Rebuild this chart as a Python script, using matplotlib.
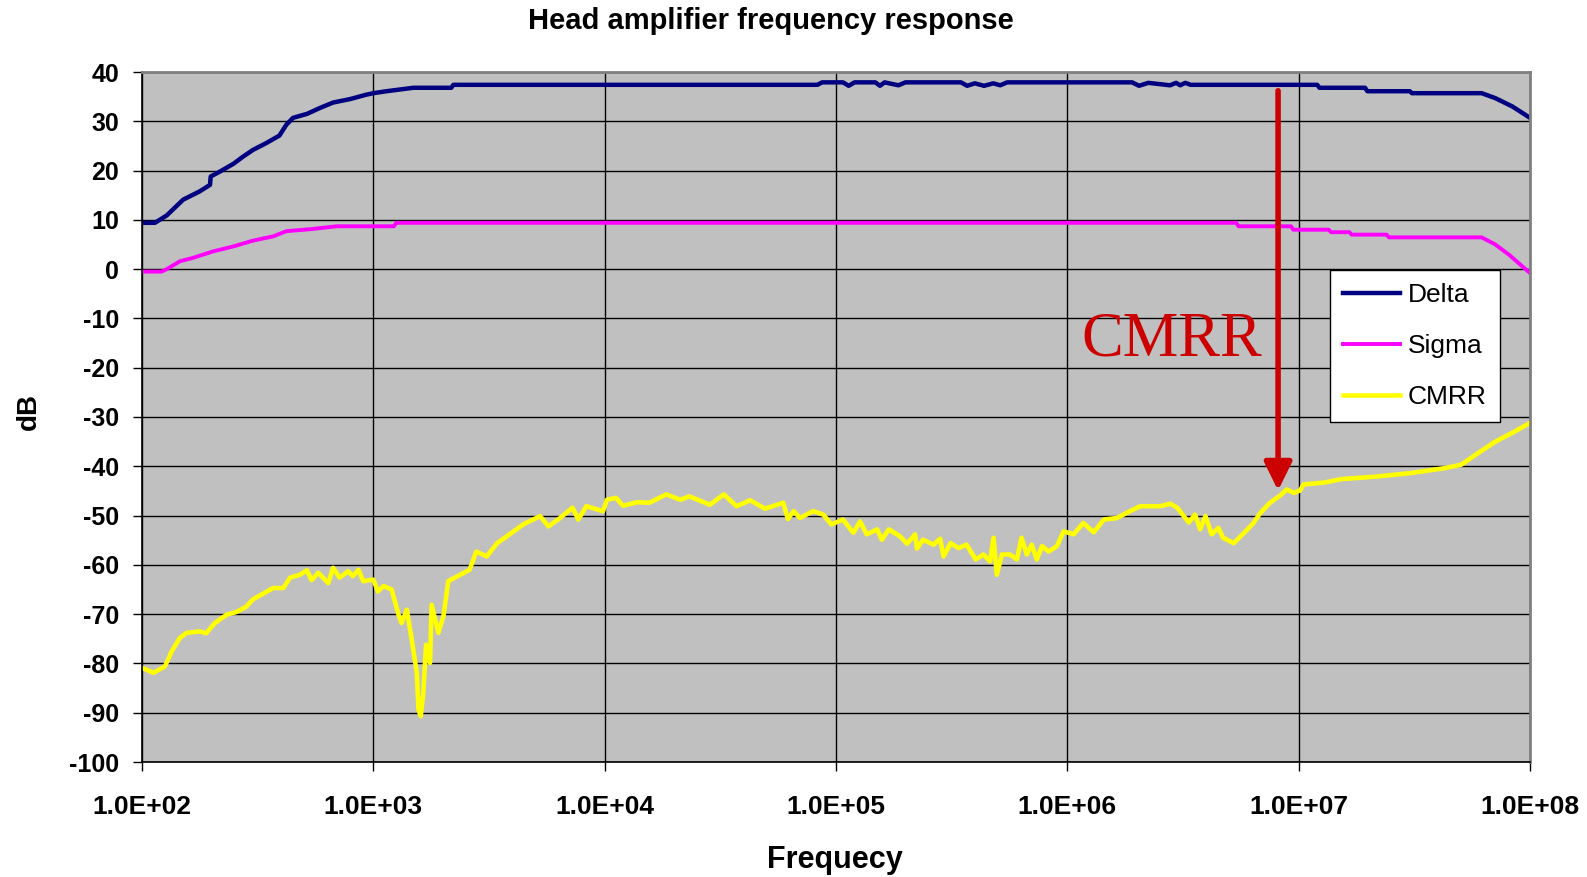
import numpy as np
import matplotlib.pyplot as plt
from matplotlib.ticker import FixedLocator, FuncFormatter

plt.rcParams['font.family'] = ['Liberation Sans', 'DejaVu Sans']
plt.rcParams['axes.unicode_minus'] = False

# -----------------------------
# DATA (frequency as log10(Hz))
# -----------------------------
delta_logf = [2.0, 2.056, 2.107, 2.178, 2.25, 2.294, 2.297, 2.337, 2.396, 2.436, 2.48,
              2.538, 2.594, 2.624, 2.653, 2.713, 2.769, 2.826, 2.899, 2.97, 3.0, 3.057,
              3.173, 3.337, 3.346, 4.92, 4.94, 5.03, 5.055, 5.08, 5.17, 5.19, 5.21,
              5.27, 5.30, 5.54, 5.567, 5.60, 5.64, 5.68, 5.71, 5.74, 6.28, 6.31,
              6.35, 6.444, 6.47, 6.488, 6.51, 6.533, 7.08, 7.09, 7.287, 7.297, 7.48,
              7.49, 7.791, 7.85, 7.924, 8.0]
delta_db = [9.4, 9.4, 10.9, 14.1, 15.8, 17.1, 18.8, 19.8, 21.4, 22.8, 24.2,
            25.6, 27.1, 29.3, 30.7, 31.5, 32.7, 33.8, 34.5, 35.4, 35.7, 36.1,
            36.8, 36.8, 37.4, 37.4, 37.9, 37.9, 37.2, 37.9, 37.9, 37.2, 37.9,
            37.3, 37.9, 37.9, 37.2, 37.7, 37.2, 37.7, 37.3, 37.9, 37.9, 37.2,
            37.8, 37.3, 37.8, 37.3, 37.8, 37.4, 37.4, 36.8, 36.8, 36.1, 36.1,
            35.7, 35.7, 34.7, 33.0, 30.7]

sigma_logf = [2.0, 2.084, 2.107, 2.164, 2.221, 2.307, 2.394, 2.481, 2.567, 2.624,
              2.726, 2.842, 3.089, 3.099, 6.73, 6.74, 6.967, 6.977, 7.13, 7.14,
              7.219, 7.229, 7.38, 7.39, 7.791, 7.85, 7.91, 8.0]
sigma_db = [-0.5, -0.5, 0.0, 1.6, 2.3, 3.6, 4.6, 5.8, 6.65, 7.7,
            8.1, 8.7, 8.7, 9.4, 9.4, 8.7, 8.7, 8.0, 8.0, 7.5,
            7.5, 7.0, 7.0, 6.45, 6.45, 5.0, 2.9, -0.8]

cmrr_logf = [2.0, 2.05, 2.099, 2.129, 2.164, 2.193, 2.25, 2.277, 2.315, 2.366, 2.406,
             2.45, 2.48, 2.525, 2.567, 2.611, 2.64, 2.683, 2.713, 2.733, 2.762, 2.805,
             2.826, 2.854, 2.891, 2.911, 2.936, 2.956, 3.0, 3.02, 3.044, 3.079, 3.109,
             3.122, 3.145, 3.166, 3.188, 3.195, 3.205, 3.216, 3.228, 3.245, 3.252,
             3.281, 3.303, 3.324, 3.376, 3.416, 3.445, 3.49, 3.535, 3.577, 3.648,
             3.721, 3.757, 3.807, 3.861, 3.886, 3.921, 3.993, 4.01, 4.049, 4.079, 4.139,
             4.193, 4.267, 4.327, 4.366, 4.455, 4.515, 4.57, 4.629, 4.693, 4.772, 4.792,
             4.817, 4.844, 4.901, 4.945, 4.98, 5.03, 5.075, 5.104, 5.133, 5.178, 5.198,
             5.228, 5.277, 5.307, 5.342, 5.35, 5.376, 5.422, 5.45, 5.465, 5.495, 5.53,
             5.564, 5.604, 5.637, 5.666, 5.681, 5.695, 5.717, 5.752, 5.782, 5.802, 5.825,
             5.846, 5.868, 5.891, 5.919, 5.955, 5.984, 6.027, 6.069, 6.114, 6.158,
             6.214, 6.271, 6.315, 6.401, 6.445, 6.475, 6.525, 6.552, 6.574, 6.597, 6.624,
             6.653, 6.673, 6.719, 6.762, 6.805, 6.832, 6.876, 6.921, 6.948, 6.98, 7.006,
             7.021, 7.11, 7.184, 7.332, 7.48, 7.628, 7.702, 7.776, 7.85, 7.924, 8.0]
cmrr_db = [-80.9, -81.9, -80.6, -77.5, -74.8, -73.8, -73.5, -73.9, -71.8, -70.1, -69.6,
           -68.5, -67.0, -65.8, -64.7, -64.7, -62.6, -62.0, -61.1, -63.1, -61.6, -63.7,
           -60.6, -62.6, -61.3, -62.3, -61.0, -63.3, -63.0, -65.4, -64.3, -65.0, -70.1,
           -71.8, -69.1, -75.2, -81.9, -89.3, -90.7, -86.0, -76.2, -79.9, -68.1,
           -73.8, -70.4, -63.3, -62.0, -61.0, -57.3, -58.3, -55.6, -54.2, -51.8,
           -50.1, -52.2, -50.5, -48.4, -50.8, -48.1, -49.1, -46.8, -46.4, -48.0, -47.3,
           -47.4, -45.7, -46.8, -46.1, -47.8, -45.7, -48.1, -46.9, -48.6, -47.4, -50.7,
           -49.1, -50.5, -49.1, -49.8, -51.8, -50.8, -53.5, -51.2, -53.8, -52.8, -54.9,
           -52.8, -54.2, -55.7, -53.8, -56.7, -54.9, -55.9, -54.7, -58.3, -55.6, -56.6,
           -55.9, -58.9, -57.9, -59.3, -54.5, -62.0, -57.9, -57.9, -58.9, -54.5, -57.9,
           -55.9, -58.9, -56.2, -57.3, -56.2, -53.2, -53.8, -51.5, -53.4, -50.8,
           -50.5, -49.1, -48.1, -48.1, -47.6, -48.4, -51.4, -49.8, -52.8, -50.1, -53.8,
           -52.5, -54.5, -55.6, -53.6, -51.5, -49.6, -47.4, -45.9, -44.7, -45.4, -44.9,
           -43.7, -43.3, -42.6, -42.1, -41.4, -40.4, -39.7, -37.3, -35.0, -33.2, -31.2]

x_decades = [1e2, 1e3, 1e4, 1e5, 1e6, 1e7, 1e8]
y_ticks = list(range(-100, 41, 10))

# annotation: arrow from Delta level down to CMRR level
arrow_logf = 6.911
arrow_top, arrow_bottom = 36.2, -44.9
label_logf, label_db = 6.06, -17.5

# -----------------------------
# PLOT
# -----------------------------
W, H = 1587, 877
fig = plt.figure(figsize=(W / 100, H / 100), dpi=100)
ax = fig.add_axes([142 / W, 1 - 762 / H, 1388 / W, 690 / H])
ax.set_facecolor('#C0C0C0')

ax.plot(10 ** np.array(delta_logf), delta_db, color='#000080', lw=3.2, label='Delta')
ax.plot(10 ** np.array(sigma_logf), sigma_db, color='#FF00FF', lw=2.8, label='Sigma')
ax.plot(10 ** np.array(cmrr_logf), cmrr_db, color='#FFFF00', lw=3.3, label='CMRR')

ax.set_xscale('log')
ax.set_xlim(1e2, 1e8)
ax.set_ylim(-100, 40)
ax.xaxis.set_major_locator(FixedLocator(x_decades))
ax.xaxis.set_minor_locator(FixedLocator([]))
ax.xaxis.set_major_formatter(FuncFormatter(lambda v, p: f"{v:.1E}"))
ax.set_yticks(y_ticks)

ax.grid(True, color='black', lw=1.0)
ax.tick_params(axis='both', direction='out', length=6.5, width=1.0, colors='black')
ax.tick_params(axis='x', pad=17, labelsize=19)
ax.tick_params(axis='y', pad=10, labelsize=18)
for lab in ax.get_xticklabels() + ax.get_yticklabels():
    lab.set_fontweight('bold')

for s in ['top', 'right']:
    ax.spines[s].set_color('#808080')
    ax.spines[s].set_linewidth(2)
for s in ['left', 'bottom']:
    ax.spines[s].set_color('black')
    ax.spines[s].set_linewidth(1.2)

# arrow + big label
ax.annotate('', xy=(10 ** arrow_logf, arrow_bottom), xytext=(10 ** arrow_logf, arrow_top),
            arrowprops=dict(arrowstyle='-|>,head_length=0.85,head_width=0.42',
                            color='#CC0000', lw=4, mutation_scale=20,
                            shrinkA=0, shrinkB=0))
ax.text(10 ** label_logf, label_db, 'CMRR', color='#CC0000', fontsize=45,
        family='Liberation Serif', ha='left', va='baseline')

leg = ax.legend(loc='upper left', bbox_to_anchor=(0.856, 0.713), borderaxespad=0,
                fontsize=19, handlelength=2.15, handletextpad=0.3, labelspacing=1.02,
                borderpad=0.5, fancybox=False, framealpha=1, edgecolor='black')
leg.get_frame().set_linewidth(1.0)

# titles
fig.text(771 / W, 1 - 21 / H, 'Head amplifier frequency response', ha='center',
         va='center', fontsize=21, fontweight='bold')
fig.text(835 / W, 1 - 860 / H, 'Frequecy', ha='center', va='center',
         fontsize=22, fontweight='bold')
fig.text(29 / W, 1 - 412 / H, 'dB', ha='center', va='center', rotation=90,
         fontsize=20, fontweight='bold')

fig.savefig('out.png', dpi=100)
plt.close(fig)
